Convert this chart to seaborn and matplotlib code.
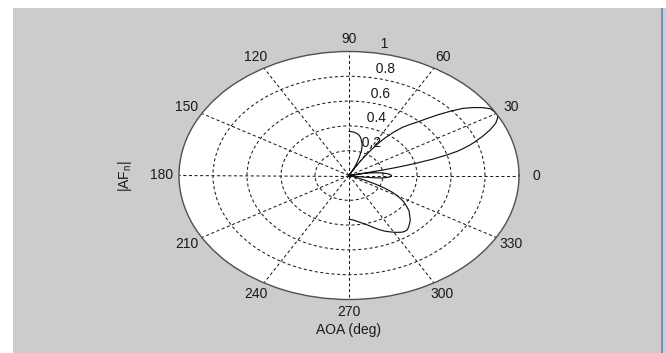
import numpy as np
import pandas as pd
import matplotlib
matplotlib.use("Agg")
import matplotlib.pyplot as plt
from matplotlib.patches import Rectangle
import seaborn as sns

# Normalised array-factor magnitude versus angle of arrival
aoa_deg = [-90, -86, -82, -78, -75, -72, -68, -65, -62, -59, -56, -54, -52, -50,
           -48, -45, -42, -39, -36, -33, -30, -28, -26, -24, -22, -20, -18, -16,
           -14, -12, -10, -9, -8, -7, -6, -4, -2, 0, 2, 4, 6, 8, 10, 11, 11.5,
           12, 12.5, 13, 13.5, 14, 15, 16, 17, 18, 19, 20, 22, 24, 26, 28, 29,
           30, 31, 33, 35, 37, 39, 41, 43, 45, 47, 49, 51, 53, 55, 56, 57, 58,
           59, 60, 61, 62, 62.5, 63, 64, 65, 66, 67, 68, 70, 72, 74, 76, 78,
           80, 82, 85, 88, 90]
af_mag = [0.353, 0.36, 0.375, 0.395, 0.412, 0.435, 0.47, 0.495, 0.515, 0.535,
          0.552, 0.558, 0.556, 0.545, 0.53, 0.51, 0.48, 0.455, 0.417, 0.38,
          0.33, 0.29, 0.235, 0.17, 0.10, 0.04, 0.0, 0.012, 0.018, 0.012, 0.0,
          0.05, 0.10, 0.15, 0.19, 0.225, 0.245, 0.25, 0.242, 0.222, 0.195,
          0.16, 0.115, 0.07, 0.0, 0.10, 0.20, 0.27, 0.34, 0.40, 0.51, 0.595,
          0.665, 0.71, 0.75, 0.785, 0.85, 0.91, 0.96, 0.99, 1.0, 1.0, 0.998,
          0.99, 0.955, 0.91, 0.86, 0.79, 0.72, 0.65, 0.59, 0.545, 0.50, 0.44,
          0.37, 0.33, 0.28, 0.23, 0.18, 0.13, 0.08, 0.03, 0.0, 0.03, 0.07,
          0.095, 0.12, 0.14, 0.165, 0.215, 0.25, 0.275, 0.297, 0.318, 0.332,
          0.342, 0.35, 0.354, 0.355]

angle_ticks = [0, 30, 60, 90, 120, 150, 180, 210, 240, 270, 300, 330]
radius_ticks = [0.2, 0.4, 0.6, 0.8, 1.0]
radius_labels = ["0.2", "0.4", "0.6", "0.8", "1"]

sns.set_style("white")
plt.rcParams["font.family"] = ["Liberation Sans", "DejaVu Sans"]
plt.rcParams["font.size"] = 10
TEXT = "#1a1a1a"

W, H = 666, 353
fig = plt.figure(figsize=(W / 100, H / 100), dpi=100, facecolor="white")

# grey window background with its right-hand border
fig.patches.append(Rectangle((13 / W, 0), (661 - 13) / W, 345 / H,
                             transform=fig.transFigure, facecolor="#cccccc",
                             edgecolor="none", zorder=-10))
fig.patches.append(Rectangle((661 / W, 0), 2 / W, 345 / H,
                             transform=fig.transFigure, facecolor="#8c8c8c",
                             edgecolor="none", zorder=-9))
fig.patches.append(Rectangle((663 / W, 0), 3 / W, 345 / H,
                             transform=fig.transFigure, facecolor="#b4d2ee",
                             edgecolor="none", zorder=-9))

cx, cy, rx, ry = 349, 175.5, 170, 124
ax = fig.add_axes([(cx - rx) / W, (H - cy - ry) / H, 2 * rx / W, 2 * ry / H],
                  projection="polar")
ax.set_aspect("auto")
ax.set_facecolor("white")
ax.set_ylim(0, 1)

df = pd.DataFrame({"theta": np.deg2rad(aoa_deg), "r": af_mag})
sns.lineplot(data=df, x="theta", y="r", ax=ax, sort=False, estimator=None,
             color="#141414", linewidth=0.85)

ax.set_thetagrids(angle_ticks, labels=[""] * len(angle_ticks))
ax.set_rgrids(radius_ticks[:-1], labels=[""] * (len(radius_ticks) - 1))
ax.grid(True, color="#1e1e1e", linestyle=(0, (3.0, 2.4)), linewidth=0.75)
ax.tick_params(length=0)
ax.set_xlabel("")
ax.set_ylabel("")
ax.spines["polar"].set_color("#505050")
ax.spines["polar"].set_linewidth(1.0)

# angle labels just outside the rim
for a in angle_ticks:
    ax.text(np.deg2rad(a), 1.1, str(a), ha="center", va="center",
            color=TEXT, clip_on=False)

# radius labels along the 82 degree spoke
for rv, lab in zip(radius_ticks, radius_labels):
    ax.text(np.deg2rad(82), rv + 0.01, "  " + lab, ha="left", va="bottom",
            color=TEXT, clip_on=False)

fig.text(125 / W, 1 - 176 / H, r"|AF$_\mathregular{n}$|", rotation=90,
         ha="center", va="center", color=TEXT)
fig.text(cx / W, 1 - 330 / H, "AOA (deg)", ha="center", va="center",
         color=TEXT)

fig.savefig("out.png", dpi=100, facecolor=fig.get_facecolor())
